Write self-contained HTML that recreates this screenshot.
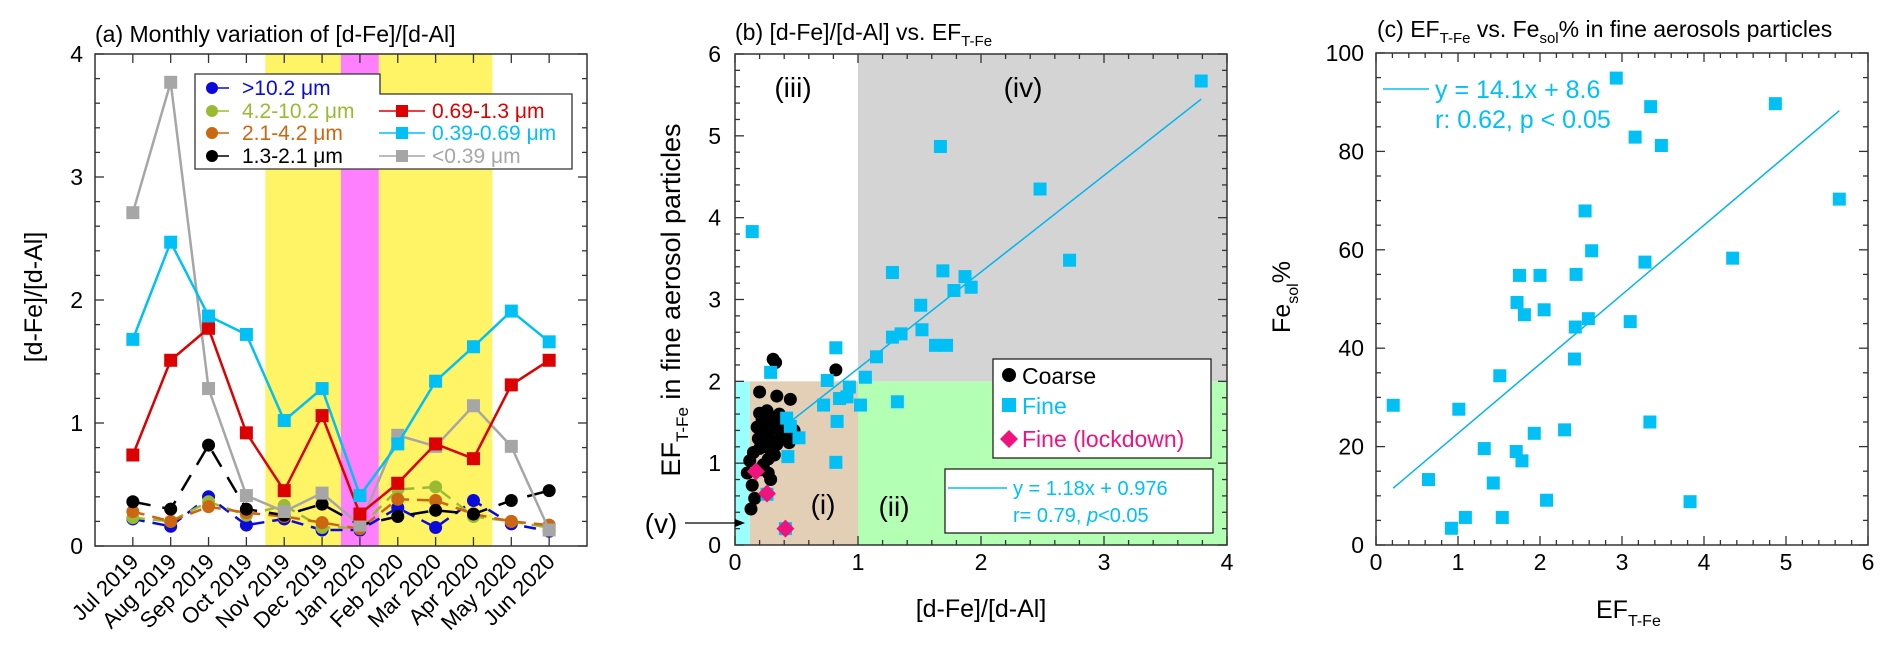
<!DOCTYPE html>
<html><head><meta charset="utf-8"><style>
html,body{margin:0;padding:0;background:#fff;}
svg{display:block;font-family:"Liberation Sans",Arial,sans-serif;}
</style></head><body>
<svg id="fig" xmlns="http://www.w3.org/2000/svg" width="1892" height="656" viewBox="0 0 1892 656"></svg>
<script>
// ---------- Panel (a) data ----------
const monthLabels = ["Jul 2019","Aug 2019","Sep 2019","Oct 2019","Nov 2019","Dec 2019","Jan 2020","Feb 2020","Mar 2020","Apr 2020","May 2020","Jun 2020"];
const sGray  = [2.71,3.77,1.28,0.41,0.28,0.43,0.17,0.90,0.81,1.14,0.81,0.13];
const sCyan  = [1.68,2.47,1.87,1.72,1.02,1.28,0.41,0.83,1.34,1.62,1.91,1.66];
const sRed   = [0.74,1.51,1.77,0.92,0.45,1.06,0.26,0.51,0.83,0.71,1.31,1.51];
const sBlack = [0.36,0.30,0.82,0.30,0.25,0.34,0.17,0.24,0.29,0.26,0.37,0.45];
const sBlue  = [0.22,0.16,0.40,0.17,0.22,0.13,0.13,0.31,0.15,0.37,0.18,0.12];
const sGreen = [0.23,0.20,0.36,0.25,0.33,0.15,0.15,0.46,0.48,0.24,0.20,0.15];
const sOrange= [0.28,0.20,0.32,0.27,0.24,0.19,0.14,0.38,0.37,0.26,0.20,0.17];
const aYTicks = [0,1,2,3,4];
// ---------- Panel (b) data ----------
const fineX = [0.14,1.67,1.28,1.69,1.87,1.92,1.78,1.51,1.52,1.28,1.35,1.63,1.72,1.15,1.06,0.82,0.75,0.29,0.93,0.85,0.91,0.72,1.02,1.32,0.83,0.82,0.42,0.45,0.52,0.43,0.26,0.41,3.79,2.48,2.72];
const fineY = [3.83,4.87,3.33,3.35,3.28,3.15,3.11,2.93,2.63,2.54,2.58,2.44,2.44,2.30,2.05,2.41,2.01,2.11,1.93,1.79,1.81,1.71,1.71,1.75,1.51,1.01,1.55,1.45,1.31,1.08,0.62,0.20,5.67,4.35,3.48];
const coarseX = [0.31,0.33,0.82,0.20,0.34,0.45,0.20,0.26,0.22,0.31,0.37,0.18,0.23,0.29,0.34,0.20,0.15,0.12,0.23,0.10,0.27,0.14,0.16,0.13,0.28,0.25,0.38,0.42,0.32,0.30,0.40,0.24,0.36,0.19,0.27,0.44,0.48,0.35,0.21,0.29];
const coarseY = [2.27,2.23,2.14,1.87,1.82,1.78,1.61,1.64,1.54,1.49,1.39,1.44,1.34,1.29,1.23,1.18,1.13,1.03,0.98,0.88,0.88,0.73,0.57,0.44,1.40,1.20,1.30,1.35,1.10,1.55,1.50,1.45,1.60,1.30,1.05,1.25,1.40,1.45,0.92,0.80];
const lockX = [0.17,0.26,0.41];
const lockY = [0.90,0.63,0.20];
const bXTicks = [0,1,2,3,4];
const bYTicks = [0,1,2,3,4,5,6];
// ---------- Panel (c) data ----------
const cX = [0.21,0.64,0.92,1.01,1.09,1.32,1.43,1.51,1.54,1.71,1.72,1.75,1.78,1.81,1.93,2.00,2.05,2.08,2.30,2.42,2.43,2.44,2.55,2.59,2.63,2.93,3.10,3.16,3.28,3.34,3.35,3.48,3.83,4.35,4.87,5.65];
const cY = [28.4,13.3,3.4,27.6,5.6,19.6,12.6,34.4,5.6,19.0,49.3,54.8,17.1,46.8,22.7,54.8,47.8,9.1,23.4,37.8,44.3,55.0,67.9,46.0,59.8,94.9,45.4,82.9,57.5,25.0,89.1,81.2,8.8,58.3,89.7,70.3];
const cXTicks = [0,1,2,3,4,5,6];
const cYTicks = [0,20,40,60,80,100];

const NS="http://www.w3.org/2000/svg";
const svg=document.getElementById('fig');
const TF=23;
function el(tag,attrs,parent,text){const e=document.createElementNS(NS,tag);for(const k in attrs)e.setAttribute(k,attrs[k]);if(text!==undefined)e.textContent=text;(parent||svg).appendChild(e);return e;}
function grp(name){const g=el('g',{});return g;}

// ================= PANEL A =================
const A={l:95,r:587,t:54,b:546,x0:0,x1:13,y0:0,y1:4};
const ax=v=>A.l+(v-A.x0)/(A.x1-A.x0)*(A.r-A.l);
const ay=v=>A.b-(v-A.y0)/(A.y1-A.y0)*(A.b-A.t);
const gA=grp('panel-a');
const bands=[[4.5,6.5,'#fff366'],[6.5,7.5,'#ff80ff'],[7.5,10.5,'#fff366']];
bands.forEach((b,i)=>{const r=el('rect',{x:ax(b[0]),y:A.t,width:ax(b[1])-ax(b[0]),height:A.b-A.t,fill:b[2]},gA);
});
const seriesA=[
 {d:sBlue,c:'#0a0adc',m:'c',dash:'12 8',name:'series-gt10'},
 {d:sGreen,c:'#99bb33',m:'c',dash:'12 8',name:'series-4-10'},
 {d:sOrange,c:'#cc6611',m:'c',dash:'12 8',name:'series-2-4'},
 {d:sBlack,c:'#000',m:'c',dash:'18 12',name:'series-1.3-2.1'},
 {d:sGray,c:'#a6a6a6',m:'s',dash:'',name:'series-lt039'},
 {d:sRed,c:'#dd0000',m:'s',dash:'',name:'series-069-13'},
 {d:sCyan,c:'#00c0f6',m:'s',dash:'',name:'series-039-069'}];
seriesA.forEach(s=>{
 const g=grp(s.name);gA.appendChild(g);
 const pts=s.d.map((v,i)=>ax(i+1)+','+ay(v)).join(' ');
 const pl=el('polyline',{points:pts,fill:'none',stroke:s.c,'stroke-width':2.5,'stroke-dasharray':s.dash},g);
 
 s.d.forEach((v,i)=>{let m;
  if(s.m=='s')m=el('rect',{x:ax(i+1)-6.5,y:ay(v)-6.5,width:13,height:13,fill:s.c},g);
  else m=el('circle',{cx:ax(i+1),cy:ay(v),r:6.5,fill:s.c},g);
  });
});
el('rect',{x:A.l,y:A.t,width:A.r-A.l,height:A.b-A.t,fill:'none',stroke:'#333','stroke-width':1.5},gA);
for(let v=0;v<=4.001;v+=0.2){const maj=Math.abs(v-Math.round(v))<1e-6;const L=maj?9:5;
 el('line',{x1:A.l,y1:ay(v),x2:A.l+L,y2:ay(v),stroke:'#333','stroke-width':1.3},gA);
 el('line',{x1:A.r,y1:ay(v),x2:A.r-L,y2:ay(v),stroke:'#333','stroke-width':1.3},gA);}
aYTicks.forEach(v=>{const t=el('text',{x:A.l-12,y:ay(v)+8,'text-anchor':'end','font-size':TF},gA,String(v));});
monthLabels.forEach((m,i)=>{const x=ax(i+1);
 el('line',{x1:x,y1:A.b,x2:x,y2:A.b-9,stroke:'#333','stroke-width':1.3},gA);
 el('line',{x1:x,y1:A.t,x2:x,y2:A.t+9,stroke:'#333','stroke-width':1.3},gA);
 const t=el('text',{x:x+7,y:A.b+17,'text-anchor':'end','font-size':22,transform:`rotate(-45 ${x+7} ${A.b+17})`},gA,m);
 });
{const t=el('text',{x:95,y:42,'font-size':23},gA,'(a) Monthly variation of [d-Fe]/[d-Al]');}
{const t=el('text',{x:0,y:0,'font-size':25,'text-anchor':'middle',transform:'translate(42 297) rotate(-90)'},gA,'[d-Fe]/[d-Al]');}
{const g=grp('legend');gA.appendChild(g);
 el('polygon',{points:'195,74 380,74 380,94 572,94 572,169 195,169',fill:'#fff',stroke:'#333','stroke-width':1.3},g);
 const ent=[[0,88,'#0a0adc','c','>10.2 \u03bcm'],[0,111,'#99bb33','c','4.2-10.2 \u03bcm'],[0,133,'#cc6611','c','2.1-4.2 \u03bcm'],[0,156,'#000','c','1.3-2.1 \u03bcm'],
  [1,111,'#dd0000','s','0.69-1.3 \u03bcm'],[1,133,'#00c0f6','s','0.39-0.69 \u03bcm'],[1,156,'#a6a6a6','s','<0.39 \u03bcm']];
 ent.forEach(e=>{const ge=grp('legend-entry');g.appendChild(ge);
  const lx1=e[0]?379:207,lx2=e[0]?425:229,mx=e[0]?402:212,tx=e[0]?432:242;
  el('line',{x1:lx1,y1:e[1],x2:lx2,y2:e[1],stroke:e[2],'stroke-width':1.5},ge);
  if(e[3]=='s')el('rect',{x:mx-6,y:e[1]-6,width:12,height:12,fill:e[2]},ge);else el('circle',{cx:mx,cy:e[1],r:6,fill:e[2]},ge);
  el('text',{x:tx,y:e[1]+7,'font-size':21,fill:e[2]},ge,e[4]);});
}

// ================= PANEL B =================
const B={l:735,r:1227,t:54,b:545};
const bx=v=>B.l+v/4*(B.r-B.l);
const by=v=>B.b-v/6*(B.b-B.t);
const gB=grp('panel-b');
[[0,0.12,0,2,'#99ffff','region-v'],[0.12,1,0,2,'#e3cfb6','region-i'],[1,4,0,2,'#b3ffb3','region-ii'],[1,4,2,6,'#d4d4d4','region-iv']].forEach(r=>{
 const e=el('rect',{x:bx(r[0]),y:by(r[3]),width:bx(r[1])-bx(r[0]),height:by(r[2])-by(r[3]),fill:r[4]},gB);});
{const x1=0.47,x2=3.79;const l=el('line',{x1:bx(x1),y1:by(1.18*x1+0.976),x2:bx(x2),y2:by(1.18*x2+0.976),stroke:'#00b4f0','stroke-width':1.5},gB);}
{const g=grp('coarse-points');gB.appendChild(g);
 coarseX.forEach((x,i)=>{const c=el('circle',{cx:bx(x),cy:by(coarseY[i]),r:6.5,fill:'#000'},g);});}
{const g=grp('fine-points');gB.appendChild(g);
 fineX.forEach((x,i)=>{const c=el('rect',{x:bx(x)-6.5,y:by(fineY[i])-6.5,width:13,height:13,fill:'#00c0f6'},g);});}
{const g=grp('lockdown-points');gB.appendChild(g);
 lockX.forEach((x,i)=>{const cx=bx(x),cy=by(lockY[i]);const c=el('polygon',{points:`${cx},${cy-9} ${cx+9},${cy} ${cx},${cy+9} ${cx-9},${cy}`,fill:'#f0137e'},g);});}
el('rect',{x:B.l,y:B.t,width:B.r-B.l,height:B.b-B.t,fill:'none',stroke:'#333','stroke-width':1.5},gB);
for(let v=0;v<=6.001;v+=0.2){const maj=Math.abs(v-Math.round(v))<1e-6;const L=maj?9:5;
 el('line',{x1:B.l,y1:by(v),x2:B.l+L,y2:by(v),stroke:'#333','stroke-width':1.3},gB);
 el('line',{x1:B.r,y1:by(v),x2:B.r-L,y2:by(v),stroke:'#333','stroke-width':1.3},gB);}
for(let v=0;v<=4.001;v+=0.2){const maj=Math.abs(v-Math.round(v))<1e-6;const L=maj?9:5;
 el('line',{x1:bx(v),y1:B.b,x2:bx(v),y2:B.b-L,stroke:'#333','stroke-width':1.3},gB);
 el('line',{x1:bx(v),y1:B.t,x2:bx(v),y2:B.t+L,stroke:'#333','stroke-width':1.3},gB);}
bYTicks.forEach(v=>{const t=el('text',{x:B.l-14,y:by(v)+8,'text-anchor':'end','font-size':TF},gB,String(v));});
bXTicks.forEach(v=>{const t=el('text',{x:bx(v),y:570,'text-anchor':'middle','font-size':TF},gB,String(v));});
[['(iii)',793,97],['(iv)',1023,97],['(i)',823,514],['(ii)',894,516]].forEach(r=>{const t=el('text',{x:r[1],y:r[2],'text-anchor':'middle','font-size':28},gB,r[0]);});
{const t=el('text',{x:661,y:533,'text-anchor':'middle','font-size':28},gB,'(v)');
 el('line',{x1:685,y1:523,x2:740,y2:523,stroke:'#000','stroke-width':1.2},gB);
 el('polygon',{points:'745,523 735,519 735,527',fill:'#000'},gB);}
{const t=el('text',{x:735,y:40,'font-size':23},gB);
 t.innerHTML='(b) [d-Fe]/[d-Al] vs. EF<tspan font-size="15" dy="6">T-Fe</tspan>';}
{const t=el('text',{x:981,y:617,'text-anchor':'middle','font-size':25},gB,'[d-Fe]/[d-Al]');}
{const t=el('text',{x:0,y:0,'font-size':27,'text-anchor':'middle',transform:'translate(680 300) rotate(-90)'},gB);
 t.innerHTML='EF<tspan font-size="17" dy="8">T-Fe</tspan><tspan dy="-8"> in fine aerosol particles</tspan>';}
{const g=grp('legend-b');gB.appendChild(g);
 el('rect',{x:993,y:359,width:218,height:99,fill:'#fff',stroke:'#222','stroke-width':1.3},g);
 el('circle',{cx:1009,cy:375,r:7,fill:'#000'},g);el('text',{x:1022,y:384,'font-size':23},g,'Coarse');
 el('rect',{x:1002,y:398,width:14,height:14,fill:'#00c0f6'},g);el('text',{x:1022,y:414,'font-size':23,fill:'#00c0f6'},g,'Fine');
 el('polygon',{points:'1009,430 1018,439 1009,448 1000,439',fill:'#f0137e'},g);el('text',{x:1022,y:447,'font-size':23,fill:'#f0137e'},g,'Fine (lockdown)');
 el('rect',{x:945,y:469,width:268,height:64,fill:'#fff',stroke:'#222','stroke-width':1.3},g);
 el('line',{x1:948,y1:488,x2:1007,y2:488,stroke:'#00c0f6','stroke-width':1.5},g);
 el('text',{x:1013,y:495,'font-size':20,fill:'#00c0f6'},g,'y = 1.18x + 0.976');
 const t2=el('text',{x:1013,y:522,'font-size':20,fill:'#00c0f6'},g);t2.innerHTML='r= 0.79, <tspan font-style="italic">p</tspan>&lt;0.05';}

// ================= PANEL C =================
const C={l:1376,r:1868,t:53,b:545};
const cx_=v=>C.l+v/6*(C.r-C.l);
const cy_=v=>C.b-v/100*(C.b-C.t);
const gC=grp('panel-c');
{const x1=0.21,x2=5.65;const l=el('line',{x1:cx_(x1),y1:cy_(14.1*x1+8.6),x2:cx_(x2),y2:cy_(14.1*x2+8.6),stroke:'#00b4f0','stroke-width':1.5},gC);}
{const g=grp('fine-points');gC.appendChild(g);
 cX.forEach((x,i)=>{const r=el('rect',{x:cx_(x)-6.5,y:cy_(cY[i])-6.5,width:13,height:13,fill:'#00c0f6'},g);});}
el('rect',{x:C.l,y:C.t,width:C.r-C.l,height:C.b-C.t,fill:'none',stroke:'#333','stroke-width':1.5},gC);
for(let v=0;v<=100.01;v+=5){const maj=v%20==0;const L=maj?9:5;
 el('line',{x1:C.l,y1:cy_(v),x2:C.l+L,y2:cy_(v),stroke:'#333','stroke-width':1.3},gC);
 el('line',{x1:C.r,y1:cy_(v),x2:C.r-L,y2:cy_(v),stroke:'#333','stroke-width':1.3},gC);}
for(let v=0;v<=6.001;v+=0.2){const maj=Math.abs(v-Math.round(v))<1e-6;const L=maj?9:5;
 el('line',{x1:cx_(v),y1:C.b,x2:cx_(v),y2:C.b-L,stroke:'#333','stroke-width':1.3},gC);
 el('line',{x1:cx_(v),y1:C.t,x2:cx_(v),y2:C.t+L,stroke:'#333','stroke-width':1.3},gC);}
cYTicks.forEach(v=>{const t=el('text',{x:C.l-12,y:cy_(v)+8,'text-anchor':'end','font-size':TF},gC,String(v));});
cXTicks.forEach(v=>{const t=el('text',{x:cx_(v),y:570,'text-anchor':'middle','font-size':TF},gC,String(v));});
{const t=el('text',{x:1377,y:37,'font-size':23},gC);
 t.innerHTML='(c) EF<tspan font-size="15" dy="6">T-Fe</tspan><tspan dy="-6"> vs. Fe</tspan><tspan font-size="15" dy="6">sol</tspan><tspan dy="-6">% in fine aerosols particles</tspan>';}
{const t=el('text',{x:1596,y:618,'font-size':25},gC);
 t.innerHTML='EF<tspan font-size="16" dy="8">T-Fe</tspan>';}
{const t=el('text',{x:0,y:0,'font-size':25,'text-anchor':'middle',transform:'translate(1290 297) rotate(-90)'},gC);
 t.innerHTML='Fe<tspan font-size="16" dy="8">sol</tspan><tspan dy="-8">%</tspan>';}
{const g=grp('fit-legend-c');gC.appendChild(g);
 el('line',{x1:1383,y1:89,x2:1429,y2:89,stroke:'#00c0f6','stroke-width':1.5},g);
 el('text',{x:1435,y:98,'font-size':25,fill:'#00c0f6'},g,'y = 14.1x + 8.6');
 el('text',{x:1435,y:128,'font-size':25,fill:'#00c0f6'},g,'r: 0.62, p < 0.05');}
</script>
</body></html>
